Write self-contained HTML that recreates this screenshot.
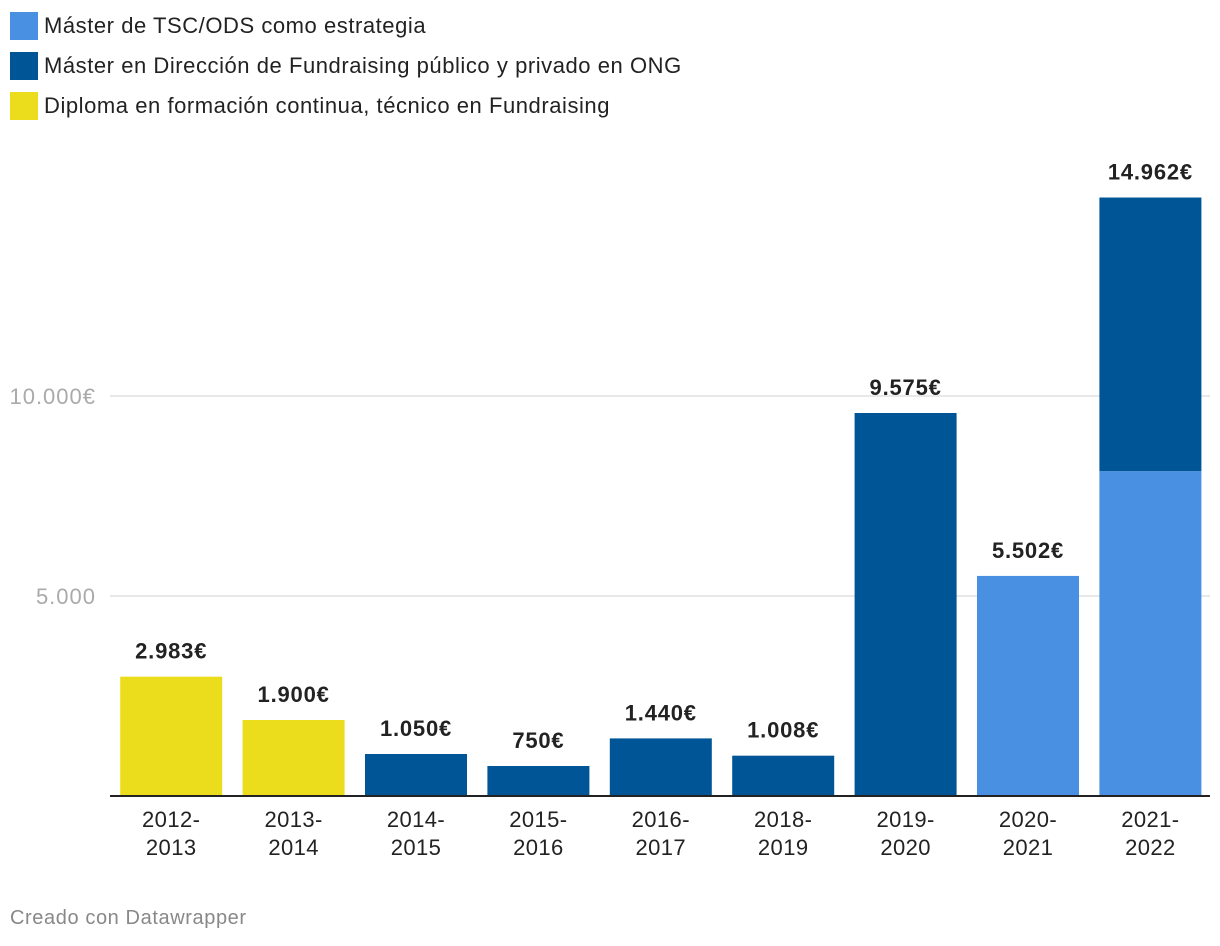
<!DOCTYPE html>
<html><head><meta charset="utf-8">
<style>
body{margin:0;width:1220px;height:946px;background:#fff;font-family:"Liberation Sans",sans-serif;overflow:hidden}
.leg{position:absolute;left:10px;height:28px;display:flex;align-items:center;font-size:22px;letter-spacing:0.55px;color:#222}
.leg span.sw{width:28px;height:28px;margin-right:6px;display:inline-block}
</style></head><body>
<div class="leg" style="top:12px"><span class="sw" style="background:#4a90e2"></span>Máster de TSC/ODS como estrategia</div>
<div class="leg" style="top:52px"><span class="sw" style="background:#005596"></span>Máster en Dirección de Fundraising público y privado en ONG</div>
<div class="leg" style="top:92px"><span class="sw" style="background:#ecdd1c"></span>Diploma en formación continua, técnico en Fundraising</div>
<svg id="chart" width="1220" height="946" style="position:absolute;left:0;top:0"></svg>
<div style="position:absolute;left:10px;top:907px;font-size:20px;letter-spacing:0.6px;color:#888">Creado con Datawrapper</div>
<script>
const categories=["2012-|2013","2013-|2014","2014-|2015","2015-|2016","2016-|2017","2018-|2019","2019-|2020","2020-|2021","2021-|2022"];
const diploma=[2983,1900,0,0,0,0,0,0,0];
const masterFund=[0,0,1050,750,1440,1008,9575,0,6842];
const masterTsc=[0,0,0,0,0,0,0,5502,8120];
const totals=["2.983€","1.900€","1.050€","750€","1.440€","1.008€","9.575€","5.502€","14.962€"];
const yTicks=[5000,10000];
const yTickLabels=["5.000","10.000€"];
const NS="http://www.w3.org/2000/svg";
const svg=document.getElementById('chart');
const x0=110,step=122.4,bw=102,pad=10.2;
const y=v=>796-v*0.04;
const xb=i=>x0+i*step+pad;
function mk(t,a){const e=document.createElementNS(NS,t);for(const k in a)e.setAttribute(k,a[k]);svg.appendChild(e);return e;}
yTicks.forEach((v,i)=>{
 const g=mk('line',{x1:110,x2:1210,y1:y(v),y2:y(v),stroke:'#e0e0e0','stroke-width':1.5});
 
 
 const t=mk('text',{x:96,y:y(v)+8,'text-anchor':'end','font-size':22,'letter-spacing':1,fill:'#aaa'});
 t.textContent=yTickLabels[i];
 
 
});
const series=[[diploma,'#ecdd1c'],[masterTsc,'#4a90e2'],[masterFund,'#005596']];
categories.forEach((c,i)=>{
 let base=0;
 series.forEach(([arr,col])=>{
  const v=arr[i]; if(!v) return;
  const r=mk('rect',{x:xb(i),y:y(base+v),width:bw,height:y(base)-y(base+v),fill:col});
  
  
  base+=v;
 });
 const t=mk('text',{x:xb(i)+bw/2,y:y(base)-18,'text-anchor':'middle','font-size':22,'letter-spacing':0.8,'font-weight':'bold',fill:'#222'});
 t.textContent=totals[i];
 
 
 c.split('|').forEach((s,k)=>{
  const l=mk('text',{x:xb(i)+bw/2,y:827+k*28,'text-anchor':'middle','font-size':22,'letter-spacing':0.4,fill:'#222'});
  l.textContent=s;
  
  
 });
});
const ax=mk('line',{x1:110,x2:1210,y1:796,y2:796,stroke:'#222','stroke-width':2});


</script>
</body></html>
